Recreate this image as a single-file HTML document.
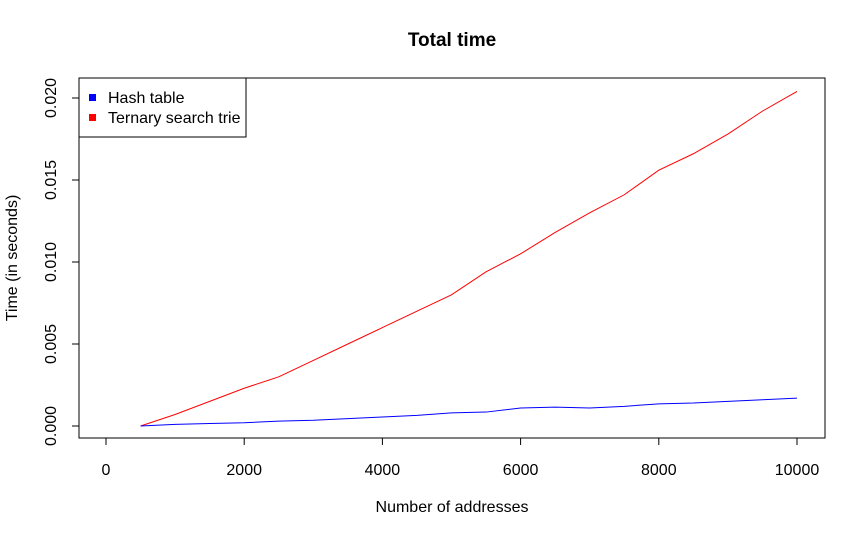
<!DOCTYPE html>
<html><head><meta charset="utf-8"><style>
body{margin:0;background:#fff;}
svg{display:block;font-family:"Liberation Sans",sans-serif;}
</style></head><body>
<svg id="chart" width="866" height="537" viewBox="0 0 866 537">
<text x="452" y="46" text-anchor="middle" font-size="19" font-weight="bold">Total time</text>
<rect x="79" y="78" width="746" height="360" fill="none" stroke="#000"/>
<text x="452" y="512" text-anchor="middle" font-size="16">Number of addresses</text>
<text transform="translate(17,258) rotate(-90)" text-anchor="middle" font-size="16">Time (in seconds)</text>
<g id="xaxis"></g>
<g id="yaxis"></g>
<g id="series"></g>
<g>
<rect x="79" y="78" width="167" height="59" fill="#fff" stroke="#000"/>
<rect x="89" y="94" width="7" height="7" fill="#0000ff"/>
<text x="108" y="103" font-size="16">Hash table</text>
<rect x="89" y="114" width="7" height="7" fill="#ff0000"/>
<text x="108" y="123" font-size="16">Ternary search trie</text>
</g>
</svg>
<script>
const xs=[500,1000,1500,2000,2500,3000,3500,4000,4500,5000,5500,6000,6500,7000,7500,8000,8500,9000,9500,10000];
const hashTable=[0,0.0001,0.00015,0.0002,0.0003,0.00035,0.00045,0.00055,0.00065,0.0008,0.00085,0.0011,0.00115,0.0011,0.0012,0.00135,0.0014,0.0015,0.0016,0.0017];
const ternaryTrie=[0,0.0007,0.0015,0.0023,0.003,0.004,0.005,0.006,0.007,0.008,0.0094,0.0105,0.0118,0.013,0.0141,0.0156,0.0166,0.0178,0.0192,0.0204];
const xTicks=[0,2000,4000,6000,8000,10000];
const yTicks=[0,0.005,0.01,0.015,0.02];
const yTickLabels=["0.000","0.005","0.010","0.015","0.020"];
const NS="http://www.w3.org/2000/svg";
function sx(v){return 106+v*(797-106)/10000;}
function sy(v){return 426-v*(426-98)/0.02;}
function mk(t,a,p){const e=document.createElementNS(NS,t);for(const k in a)e.setAttribute(k,a[k]);p.appendChild(e);return e;}
const xa=document.getElementById('xaxis');
mk('line',{x1:sx(0),x2:sx(10000),y1:438,y2:438,stroke:'#000'},xa);
xTicks.forEach(v=>{
 const l=mk('line',{x1:sx(v),x2:sx(v),y1:438,y2:445,stroke:'#000'},xa);
 
 
 const t=mk('text',{x:sx(v),y:475,'text-anchor':'middle','font-size':16},xa);
 t.textContent=v;
 
 
});
const ya=document.getElementById('yaxis');
mk('line',{x1:79,x2:79,y1:sy(0),y2:sy(0.02),stroke:'#000'},ya);
yTicks.forEach((v,i)=>{
 const l=mk('line',{x1:72,x2:79,y1:sy(v),y2:sy(v),stroke:'#000'},ya);
 
 
 const t=mk('text',{transform:`translate(56,${sy(v)}) rotate(-90)`,'text-anchor':'middle','font-size':16},ya);
 t.textContent=yTickLabels[i];
 
 
});
const sg=document.getElementById('series');
function line(vals,color,name){
 const p=mk('polyline',{points:vals.map((v,i)=>sx(xs[i])+','+sy(v)).join(' '),fill:'none',stroke:color,'stroke-width':1},sg);
 
 
}
line(ternaryTrie,'#ff0000','ternary-search-trie-line');
line(hashTable,'#0000ff','hash-table-line');
</script>
</body></html>
